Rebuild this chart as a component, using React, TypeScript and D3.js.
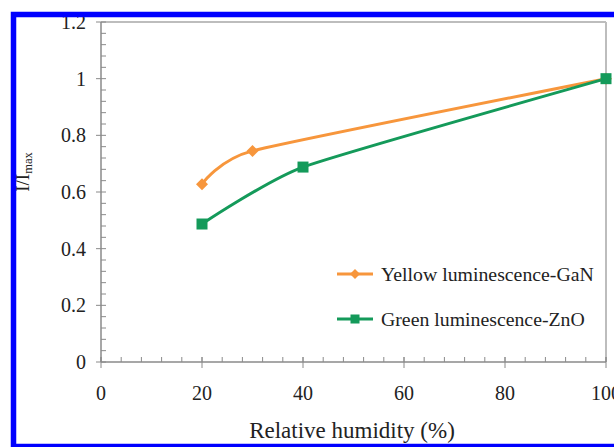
import React from "react";
import * as d3 from "d3";

const humidity: number[] = [20, 30, 100];
const yellowGaN: number[] = [0.627, 0.745, 1.0];
const humidityZnO: number[] = [20, 40, 100];
const greenZnO: number[] = [0.487, 0.688, 1.0];
const xTicks: number[] = [0, 20, 40, 60, 80, 100];
const yTicks: number[] = [0, 0.2, 0.4, 0.6, 0.8, 1, 1.2];
const yTickLabels: string[] = ["0", "0.2", "0.4", "0.6", "0.8", "1", "1.2"];
const seriesNames: string[] = ["Yellow luminescence-GaN", "Green luminescence-ZnO"];

const W = 614;
const H = 447;
const ORANGE = "#F7963C";
const GREEN = "#149A5A";
const FONT = "'Liberation Serif', 'Times New Roman', serif";

export default function App() {
  const left = 101, right = 606, top = 22, bottom = 362;
  const x = d3.scaleLinear().domain([0, 100]).range([left, right]);
  const y = d3.scaleLinear().domain([0, 1.2]).range([bottom, top]);

  const line = d3
    .line<[number, number]>()
    .x((d) => x(d[0]))
    .y((d) => y(d[1]))
    .curve(d3.curveCardinal.tension(0.5));

  const orangePts: [number, number][] = humidity.map((h, i) => [h, yellowGaN[i]]);
  const greenPts: [number, number][] = humidityZnO.map((h, i) => [h, greenZnO[i]]);

  const xMinor = d3.range(0, 100.001, 4);
  const yMinor = d3.range(0, 1.2001, 0.04);

  const diamond = (cx: number, cy: number, r: number) =>
    `M${cx},${cy - r}L${cx + r},${cy}L${cx},${cy + r}L${cx - r},${cy}Z`;

  return (
    <svg
      width={W}
      height={H}
      style={{ position: "absolute", left: 0, top: 0, background: "#fff" }}
      fontFamily={FONT}
    >
      <rect x={0} y={0} width={W} height={H} fill="#fff" />
      {/* frame */}
      <line x1={left} x2={right} y1={top} y2={top} stroke="#bdbdbd" strokeWidth={2} />
      <line x1={right} x2={right} y1={top} y2={bottom} stroke="#bdbdbd" strokeWidth={2} />
      {/* axes */}
      <line x1={left} x2={left} y1={top} y2={bottom} stroke="#8a8a8a" strokeWidth={1.5} />
      <line x1={left} x2={right} y1={bottom} y2={bottom} stroke="#8a8a8a" strokeWidth={1.5} />
      {/* minor ticks */}
      {yMinor.map((v, i) => (
        <line key={"ym" + i} x1={left} x2={left + 5} y1={y(v)} y2={y(v)} stroke="#8a8a8a" strokeWidth={1} />
      ))}
      {xMinor.map((v, i) => (
        <line key={"xm" + i} x1={x(v)} x2={x(v)} y1={bottom} y2={bottom - 5} stroke="#8a8a8a" strokeWidth={1} />
      ))}
      {/* major ticks */}
      {yTicks.map((v, i) => (
        <line key={"yM" + i} x1={left - 5} x2={left} y1={y(v)} y2={y(v)} stroke="#8a8a8a" strokeWidth={1} />
      ))}
      {xTicks.map((v, i) => (
        <line key={"xM" + i} x1={x(v)} x2={x(v)} y1={bottom - 5} y2={bottom + 6} stroke="#8a8a8a" strokeWidth={1} />
      ))}
      {/* tick labels */}
      {yTicks.map((v, i) => (
        <text key={"yl" + i} x={86} y={y(v) + 7} textAnchor="end" fontSize={20} fill="#222">
          {yTickLabels[i]}
        </text>
      ))}
      {xTicks.map((v, i) => (
        <text key={"xl" + i} x={x(v)} y={400} textAnchor="middle" fontSize={20} fill="#222">
          {String(v)}
        </text>
      ))}
      {/* series */}
      <path d={line(orangePts) || ""} fill="none" stroke={ORANGE} strokeWidth={3} />
      <path d={line(greenPts) || ""} fill="none" stroke={GREEN} strokeWidth={3} />
      {orangePts.map((p, i) => (
        <path key={"od" + i} d={diamond(x(p[0]), y(p[1]), 6)} fill={ORANGE} />
      ))}
      {greenPts.map((p, i) => (
        <rect key={"gs" + i} x={x(p[0]) - 5.5} y={y(p[1]) - 5.5} width={11} height={11} fill={GREEN} />
      ))}
      {/* legend */}
      <line x1={337} x2={373} y1={274} y2={274} stroke={ORANGE} strokeWidth={3} />
      <path d={diamond(355, 274, 5)} fill={ORANGE} />
      <text x={381} y={281} fontSize={19.8} fill="#222">
        {seriesNames[0]}
      </text>
      <line x1={337} x2={373} y1={319} y2={319} stroke={GREEN} strokeWidth={3} />
      <rect x={350.5} y={314.5} width={9} height={9} fill={GREEN} />
      <text x={381} y={326} fontSize={19.8} fill="#222">
        {seriesNames[1]}
      </text>
      {/* axis titles */}
      <text x={352} y={438} textAnchor="middle" fontSize={23} fill="#222">
        Relative humidity (%)
      </text>
      <text transform="translate(29,172) rotate(-90)" textAnchor="middle" fontSize={19} fill="#222">
        I/I<tspan fontSize={12.5} dy={3}>max</tspan>
      </text>
      {/* blue border */}
      <rect x={13.5} y={14.5} width={640} height={432} fill="none" stroke="#0000FF" strokeWidth={5.5} />
    </svg>
  );
}
